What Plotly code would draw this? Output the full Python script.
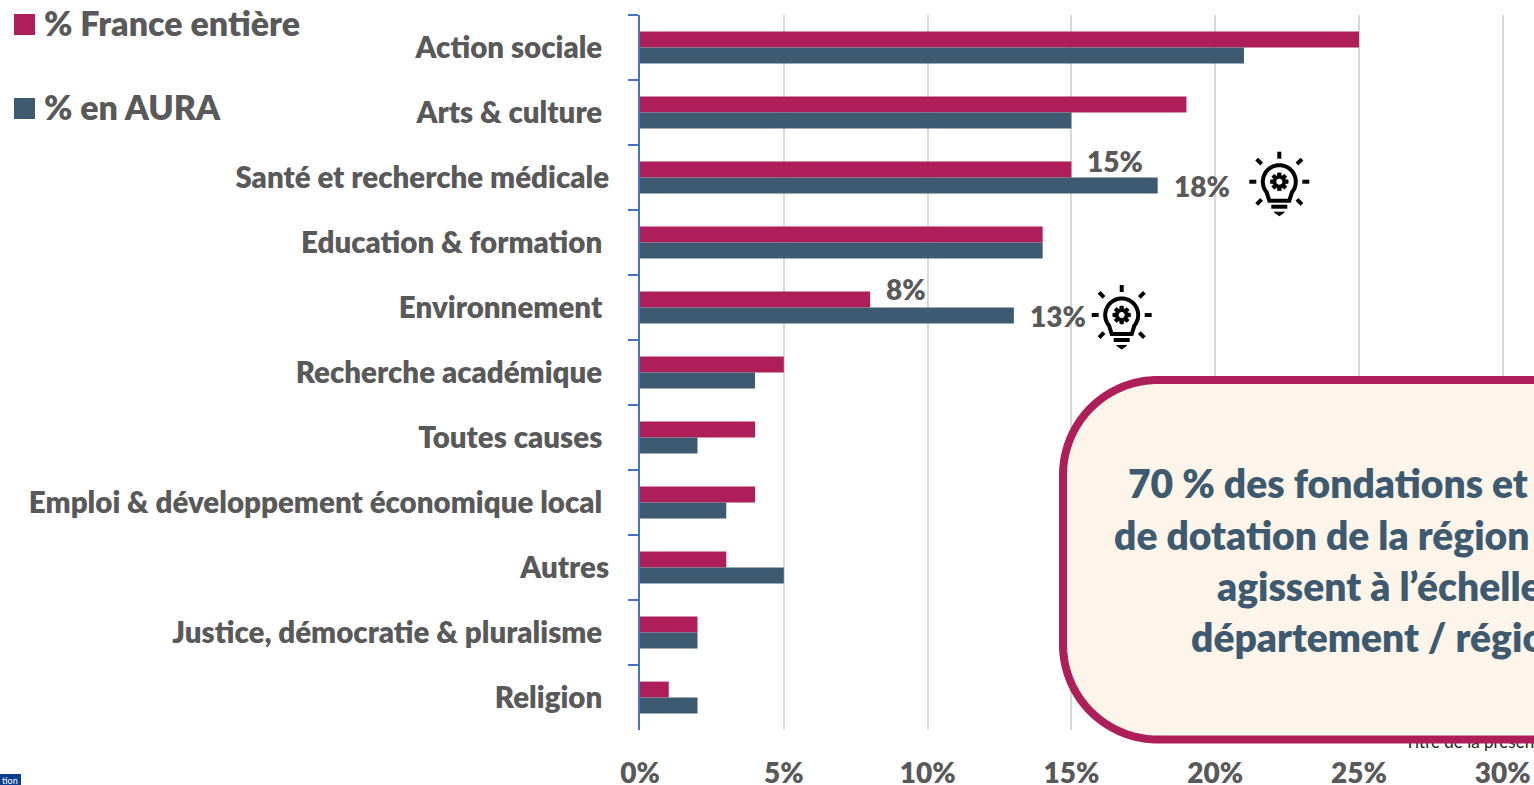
import math
import plotly.graph_objects as go

NB = "\u00a0"
categories = ["Action sociale" + NB, "Arts & culture" + NB, "Santé et recherche médicale",
              "Education & formation" + NB, "Environnement" + NB, "Recherche académique" + NB,
              "Toutes causes" + NB, "Emploi & développement économique local" + NB, "Autres",
              "Justice, démocratie & pluralisme" + NB, "Religion" + NB]
france = [25, 19, 15, 14, 8, 5, 4, 4, 3, 2, 1]
aura = [21, 15, 18, 14, 13, 4, 2, 3, 5, 2, 2]
series_names = ["% France entière", "% en AURA"]
x_ticks = [0, 5, 10, 15, 20, 25, 30]
x_tick_labels = ["0%", "5%", "10%", "15%", "20%", "25%", "30%"]
callout_lines = ["70 % des fondations et fonds", "de dotation de la région",
                 "agissent à l’échelle du", "département / région"]
footer_title = "Titre de la présentation"

W, H = 1534, 785
L, T, B = 640, 15, 730
PINK, BLUE, GREY = "#AE1F5A", "#3E5A70", "#595959"
FONT = "Lato"
WEIGHT = 800
PX_PER_PCT = 28.76

def xp(px):
    return (px - L) / (W - L)

def yp(py):
    return (B - py) / (B - T)

fig = go.Figure()
fig.add_bar(y=categories, x=france, name=series_names[0], orientation="h",
            marker=dict(color=PINK, line_width=0), showlegend=False)
fig.add_bar(y=categories, x=aura, name=series_names[1], orientation="h",
            marker=dict(color=BLUE, line_width=0), showlegend=False)

shapes, annos = [], []

def path_shape(d, **kw):
    shapes.append(dict(type="path", path=d, xref="paper", yref="paper", **kw))

def P(pts, close=False):
    s = "M" + " L".join(f"{xp(a):.6f},{yp(b):.6f}" for a, b in pts)
    return s + (" Z" if close else "")

def arc_pts(cx, cy, r, a0, a1, n=48):
    return [(cx + r * math.cos(math.radians(a0 + (a1 - a0) * i / n)),
             cy + r * math.sin(math.radians(a0 + (a1 - a0) * i / n))) for i in range(n + 1)]

def bulb(cx, cy):
    k = dict(line=dict(color="black", width=4), layer="above")
    for a in range(0, 360, 45):
        if a == 90:
            continue
        c, s = math.cos(math.radians(a)), math.sin(math.radians(a))
        r0, r1 = (23, 30) if a % 90 == 0 else (25, 32)
        path_shape(P([(cx + r0 * c, cy + r0 * s), (cx + r1 * c, cy + r1 * s)]), **k)
    pts = arc_pts(cx, cy, 16.5, 140, 400)
    pts = [(cx - 10, cy + 19)] + pts + [(cx + 10, cy + 19)]
    path_shape(P(pts, True), fillcolor="white", **k)
    path_shape(P([(cx - 8, cy + 25), (cx + 8, cy + 25)]), **k)
    path_shape(P([(cx - 5, cy + 30.5), (cx + 5, cy + 30.5), (cx, cy + 34)], True),
               fillcolor="black", line=dict(color="black", width=1), layer="above")
    gear = []
    for i in range(8):
        a = i * 45
        gear += arc_pts(cx, cy, 9, a - 12, a + 12, 3) + arc_pts(cx, cy, 6.5, a + 18, a + 27, 2)
    path_shape(P(gear, True), fillcolor="black", line=dict(color="black", width=0.5), layer="above")
    path_shape(P(arc_pts(cx, cy, 3, 0, 360), True), fillcolor="white",
               line=dict(color="white", width=0), layer="above")

# footer title: listed before the box, so the box hides its upper part
shapes.append(dict(type="rect", xref="paper", yref="paper", x0=xp(1402), x1=xp(1760), y0=yp(732), y1=yp(750),
                   line_width=0, fillcolor="rgba(0,0,0,0)", layer="above",
                   label=dict(text=footer_title, textposition="middle left", padding=0,
                              font=dict(family=FONT, size=17, color="#222222"))))

# callout box
bx0, by0, bx1, by1, rr = 1063, 380, 1800, 739.5, 95
box = (arc_pts(bx0 + rr, by0 + rr, rr, 180, 270) + arc_pts(bx1 - rr, by0 + rr, rr, 270, 360)
       + arc_pts(bx1 - rr, by1 - rr, rr, 0, 90) + arc_pts(bx0 + rr, by1 - rr, rr, 90, 180))
path_shape(P(box, True), fillcolor="#FDF5E9", line=dict(color=PINK, width=8), layer="above")

bulb(1279.3, 181.7)
bulb(1121.7, 315)

# legend
for name, col, cy in zip(series_names, [PINK, BLUE], [24.5, 108.5]):
    shapes.append(dict(type="rect", xref="paper", yref="paper", x0=xp(14), x1=xp(35),
                       y0=yp(cy - 10.5), y1=yp(cy + 10.5), fillcolor=col, line_width=0))
    annos.append(dict(text=name, xref="paper", yref="paper", x=xp(42), y=yp(cy - 2.5),
                      xanchor="left", yanchor="middle", showarrow=False,
                      font=dict(family=FONT, size=34, color=GREY, weight=WEIGHT)))

# data labels (yshift in pixels from the category centre)
for val, cat, sy in [(france[2], categories[2], 16.5), (aura[2], categories[2], -8.5),
                     (france[4], categories[4], 18.5), (aura[4], categories[4], -8.5)]:
    annos.append(dict(text=f"{val}%", x=val, y=cat, xref="x", yref="y", xanchor="left",
                      yanchor="middle", showarrow=False, xshift=14, yshift=sy,
                      font=dict(family=FONT, size=28, color=GREY, weight=WEIGHT)))

# callout text
for line, px, py in zip(callout_lines, [1126, 1112, 1215, 1189], [483, 535, 586, 637]):
    annos.append(dict(text=line, xref="paper", yref="paper", x=xp(px), y=yp(py), xanchor="left",
                      yanchor="middle", showarrow=False,
                      font=dict(family=FONT, size=39, color=BLUE, weight=WEIGHT)))

# bottom-left footer badge
shapes.append(dict(type="rect", xref="paper", yref="paper", x0=xp(-2), x1=xp(21), y0=yp(774), y1=yp(787),
                   fillcolor="#0B3D91", line_width=0))
annos.append(dict(text="tion", xref="paper", yref="paper", x=xp(20), y=yp(780), xanchor="right",
                  yanchor="middle", showarrow=False, font=dict(family=FONT, size=9, color="white")))

fig.update_layout(
    width=W, height=H, autosize=False, paper_bgcolor="white", plot_bgcolor="white",
    margin=dict(l=L, r=0, t=T, b=H - B, pad=0),
    barmode="group", bargap=0.51, bargroupgap=0,
    font=dict(family=FONT, color=GREY),
    shapes=shapes, annotations=annos,
    xaxis=dict(range=[0, (W - L) / PX_PER_PCT], tickvals=x_ticks, ticktext=x_tick_labels, showgrid=True,
               gridcolor="#D9D9D9", gridwidth=2, zeroline=False, showline=False, ticks="", automargin=False,
               ticklabelstandoff=24, tickfont=dict(family=FONT, size=28, color=GREY, weight=WEIGHT)),
    yaxis=dict(type="category", categoryorder="array", categoryarray=categories, autorange="reversed",
               showline=True, linecolor="#4472C4", linewidth=2, ticks="outside", tickson="boundaries",
               automargin=False, ticklen=10, tickwidth=1.5, tickcolor="#4472C4", showgrid=False, zeroline=False,
               ticklabelstandoff=23, tickfont=dict(family=FONT, size=29.5, color=GREY, weight=WEIGHT)),
)
fig.write_html("out.html", config=dict(displayModeBar=False),
               post_script="document.body.style.margin='0';document.body.style.overflow='hidden';")
